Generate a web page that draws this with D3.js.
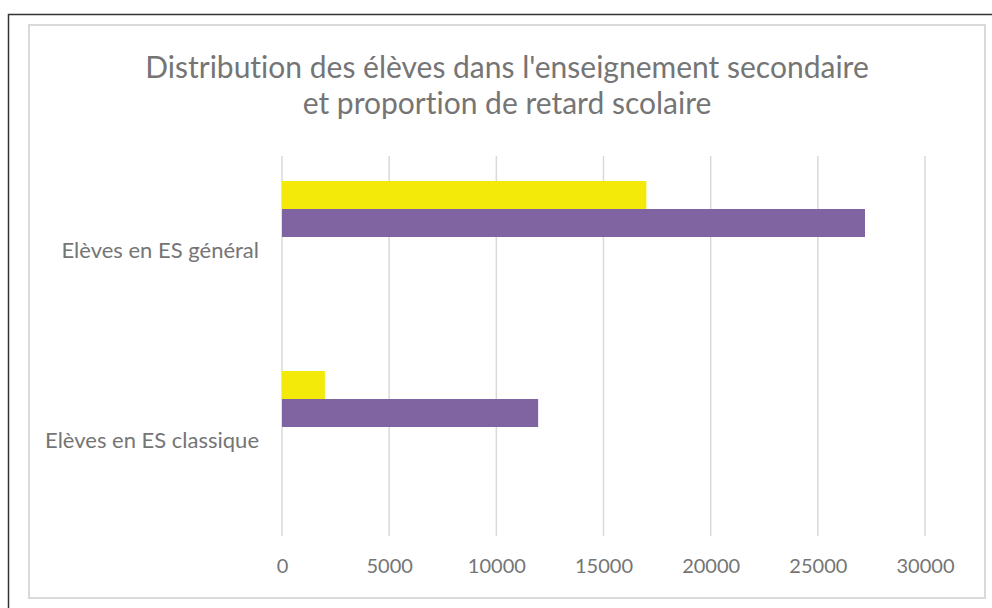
<!DOCTYPE html>
<html>
<head>
<meta charset="utf-8">
<script src="https://cdn.jsdelivr.net/npm/d3@7"></script>
<style>
  body { margin: 0; background: #fff; }
  text { font-family: Lato, "Open Sans", sans-serif; fill: #757575; font-variant-ligatures: none; }
</style>
</head>
<body>
<div id="vis"></div>
<script>
const width = 992;
const height = 608;

// data
const categories = ["Elèves en ES général", "Elèves en ES classique"];
const seriesNames = ["Elèves en retard scolaire", "Nombre d'élèves"];
const retard = [17000, 2000];
const eleves = [27200, 11950];
const ticks = [0, 5000, 10000, 15000, 20000, 25000, 30000];
const titleLines = ["Distribution des élèves dans l'enseignement secondaire",
                    "et proportion de retard scolaire"];
const colors = ["#f4ea0a", "#8064a2"];

const svg = d3.select("#vis").append("svg")
  .attr("width", width)
  .attr("height", height);

// outer frame (runs off the page at right/bottom)
svg.append("rect")
  .attr("x", 8.5).attr("y", 14.5)
  .attr("width", 1000).attr("height", 1000)
  .attr("fill", "none").attr("stroke", "#333").attr("stroke-width", 1.5);

// chart area border
svg.append("rect")
  .attr("x", 29).attr("y", 25)
  .attr("width", 956).attr("height", 573)
  .attr("fill", "#fff").attr("stroke", "#d9d9d9").attr("stroke-width", 2);

// title
svg.selectAll(".title").data(titleLines).enter().append("text")
  .attr("class", "title")
  .attr("x", 507)
  .attr("y", (d, i) => 78 + i * 36)
  .attr("text-anchor", "middle")
  .attr("font-size", 30)
  .text(d => d);

const x = d3.scaleLinear().domain([0, 30000]).range([282, 925]);
const y = d3.scaleBand().domain(categories).range([156, 536]);
// five slots per category, only the first two carry data
const slot = d3.scaleBand().domain([0, 1, 2, 3, 4]).range([-70, 70]);

// gridlines
svg.selectAll(".grid").data(ticks).enter().append("line")
  .attr("x1", d => x(d)).attr("x2", d => x(d))
  .attr("y1", 156).attr("y2", 536)
  .attr("stroke", "#d9d9d9").attr("stroke-width", 1.5);

// x axis labels
const xAxis = d3.axisBottom(x).tickValues(ticks).tickSize(0).tickPadding(0).tickFormat(d3.format("d"));
const gx = svg.append("g").attr("transform", "translate(0,558)").call(xAxis);
gx.select(".domain").remove();
gx.selectAll("text").attr("font-size", 20).attr("dy", "0.75em")
  .style("font-family", "Lato, 'Open Sans', sans-serif").style("fill", "#757575");

// category labels
const yAxis = d3.axisLeft(y).tickSize(0).tickPadding(0);
const gy = svg.append("g").attr("transform", "translate(259,0)").call(yAxis);
gy.select(".domain").remove();
gy.selectAll("text").attr("font-size", 22)
  .style("font-family", "Lato, 'Open Sans', sans-serif").style("fill", "#757575");

// bars
const series = [retard, eleves];
series.forEach(function (vals, s) {
  svg.selectAll(".bar" + s).data(vals).enter().append("rect")
    .attr("class", "bar" + s)
    .attr("x", x(0))
    .attr("y", (d, i) => y(categories[i]) + y.bandwidth() / 2 + slot(s))
    .attr("width", d => x(d) - x(0))
    .attr("height", slot.bandwidth())
    .attr("fill", colors[s]);
});
</script>
</body>
</html>
